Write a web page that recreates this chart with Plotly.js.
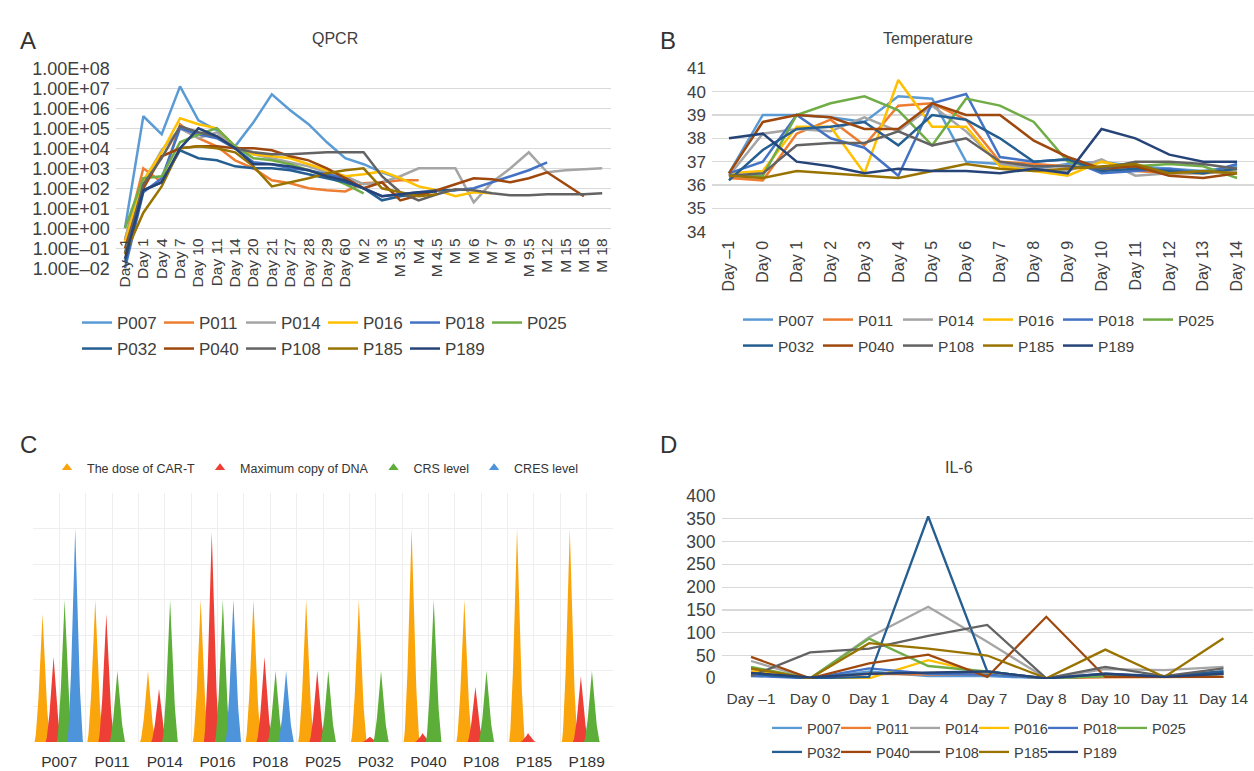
<!DOCTYPE html>
<html><head><meta charset="utf-8">
<script src="https://cdn.plot.ly/plotly-3.0.1.min.js"></script>
<style>html,body{margin:0;padding:0;background:#fff;} #chart{width:1254px;height:771px;}</style>
</head><body><div id="chart"></div>
<script>
// ---------- shared ----------
const patients = ['P007','P011','P014','P016','P018','P025','P032','P040','P108','P185','P189'];
const seriesColors = ['#5B9BD5','#ED7D31','#A5A5A5','#FFC000','#4472C4','#70AD47','#255E91','#9E480E','#636363','#997300','#264478'];

// ---------- A: QPCR ----------
const qpcrDays = ['Day –1','Day 1','Day 4','Day 7','Day 10','Day 11','Day 14','Day 20','Day 21','Day 27','Day 28','Day 29','Day 60','M 2','M 3','M 3.5','M 4','M 4.5','M 5','M 6','M 7','M 9','M 9.5','M 12','M 15','M 16','M 18'];
const qpcrTickVals = [1e-2,1e-1,1e0,1e1,1e2,1e3,1e4,1e5,1e6,1e7,1e8];
const qpcrTickText = ['1.00E–02','1.00E–01','1.00E+00','1.00E+01','1.00E+02','1.00E+03','1.00E+04','1.00E+05','1.00E+06','1.00E+07','1.00E+08'];
const qpcrP007 = [1,4e5,5e4,1.25e7,2.5e5,8e4,1.25e4,2e5,5e6,8e5,1.6e5,2e4,3200,1600,630,300,null,null,null,null,null,null,null,null,null,null,null];
const qpcrP011 = [0.25,1000,200,1.6e5,3.2e4,1.25e4,2500,1000,250,180,100,80,70,180,200,250,250,null,null,null,null,null,null,null,null,null,null];
const qpcrP014 = [0.3,200,8000,1e5,3.2e4,6.3e4,1e4,5000,3200,2000,1250,630,400,160,200,400,1000,1000,1000,20,200,1000,6300,630,800,900,1000];
const qpcrP016 = [0.2,250,6300,3.2e5,1.6e5,1e5,1.25e4,5000,4000,3200,1600,800,400,500,700,320,125,80,40,63,56,null,null,null,null,null,null];
const qpcrP018 = [0.01,63,320,1e5,5e4,3.2e4,1e4,2000,1600,1000,800,500,320,100,40,50,63,80,80,100,200,400,800,2000,null,null,null];
const qpcrP025 = [1,320,400,2e4,5e4,1e5,1.25e4,3200,2500,1600,800,400,160,56,null,null,null,null,null,null,null,null,null,null,null,null,null];
const qpcrP032 = [0.02,80,200,8000,3200,2500,1250,1000,1000,800,500,320,200,100,25,40,50,80,80,null,null,null,null,null,null,null,null];
const qpcrP040 = [0.1,100,4000,1e4,1.25e4,1.25e4,1e4,1e4,8000,4000,2500,1000,320,100,200,25,45,80,160,320,280,200,320,630,160,40,null];
const qpcrP108 = [0.06,160,3200,1.25e5,6.3e4,4e4,1e4,6300,5000,5000,5600,6300,6300,6300,400,63,25,50,90,80,56,45,45,50,50,50,56];
const qpcrP185 = [0.05,6,125,1e4,1.25e4,1e4,6300,1250,125,200,320,560,800,1000,100,63,40,50,null,null,null,null,null,null,null,null,null];
const qpcrP189 = [0.03,80,200,1e4,1e5,4e4,1e4,1600,1600,1250,800,400,250,100,40,50,63,70,null,null,null,null,null,null,null,null,null];

// ---------- B: Temperature ----------
const tempDays = ['Day –1','Day 0','Day 1','Day 2','Day 3','Day 4','Day 5','Day 6','Day 7','Day 8','Day 9','Day 10','Day 11','Day 12','Day 13','Day 14'];
const tempP007 = [36.5,39.0,39.0,38.9,38.7,39.8,39.7,37.0,36.9,36.7,36.9,37.0,36.8,36.7,36.6,36.8];
const tempP011 = [36.3,36.2,38.2,38.8,37.7,39.4,39.5,38.8,37.0,36.9,36.8,36.7,36.6,36.5,36.5,36.6];
const tempP014 = [36.4,38.2,38.4,38.3,38.9,38.3,39.4,38.3,36.9,36.7,36.6,37.1,36.4,36.5,36.5,36.6];
const tempP016 = [36.5,36.6,38.5,38.5,36.5,40.5,38.5,38.5,36.8,36.6,36.4,37.0,36.7,36.6,36.5,36.7];
const tempP018 = [36.5,37.0,39.0,38.0,37.6,36.4,39.5,39.9,37.2,37.0,37.1,36.5,36.6,36.7,36.5,36.9];
const tempP025 = [36.4,36.4,39.0,39.5,39.8,39.2,37.7,39.7,39.4,38.7,37.0,36.7,36.8,36.9,36.8,36.3];
const tempP032 = [36.2,37.5,38.4,38.5,38.7,37.7,39.0,38.8,38.0,37.0,37.1,36.6,36.7,36.6,36.5,36.7];
const tempP040 = [36.5,38.7,39.0,38.9,38.4,38.4,39.5,39.0,39.0,37.9,37.2,36.7,36.8,36.4,36.3,36.5];
const tempP108 = [36.4,36.5,37.7,37.8,37.8,38.3,37.7,38.0,37.0,36.8,36.8,36.7,37.0,37.0,36.9,36.7];
const tempP185 = [36.4,36.3,36.6,36.5,36.4,36.3,36.6,36.9,36.7,36.6,36.7,36.8,36.9,36.5,36.6,36.5];
const tempP189 = [38.0,38.2,37.0,36.8,36.5,36.7,36.6,36.6,36.5,36.7,36.5,38.4,38.0,37.3,37.0,37.0];

// ---------- C: dose / DNA / CRS / CRES ----------
const cSeriesNames = ['The dose of CAR-T','Maximum copy of DNA','CRS level','CRES level'];
const cSeriesColors = ['#FBA50D','#EE3F36','#5DAE38','#4D94DB'];
const doseCART = [3.6,4,2,4,4,4,4,6,4,6,6];
const maxDNA   = [2.4,3.6,1.5,5.9,2.4,2.0,0.15,0.25,1.55,0.25,1.85];
const crsLevel = [4,2,4,4,2,2,2,4,2,0,2];
const cresLevel= [6,0,0,4,2,0,0,0,0,0,0];

// ---------- D: IL-6 ----------
const il6Days = ['Day –1','Day 0','Day 1','Day 4','Day 7','Day 8','Day 10','Day 11','Day 14'];
const il6P007 = [10,0,15,5,5,0,5,5,10];
const il6P011 = [20,0,10,8,10,0,2,2,3];
const il6P014 = [38,0,90,157,80,0,20,18,25];
const il6P016 = [15,0,0,40,10,0,5,5,10];
const il6P018 = [5,0,22,10,8,0,5,5,15];
const il6P025 = [25,0,87,27,15,0,5,3,10];
const il6P032 = [10,0,3,355,15,0,10,5,15];
const il6P040 = [47,0,33,52,3,135,3,3,3];
const il6P108 = [5,57,65,93,117,0,25,5,22];
const il6P185 = [22,0,77,65,50,0,63,3,88];
const il6P189 = [12,2,10,12,15,0,10,3,10];

// ---------- build ----------
const W = 1254, H = 771;
const px = v => v / W;
const py = v => 1 - v / H;
const FONT = 'Liberation Sans, Arial, Helvetica, sans-serif';
const TXT = '#404040';
const GRID = '#D9D9D9';

const qpcrSeries = [qpcrP007,qpcrP011,qpcrP014,qpcrP016,qpcrP018,qpcrP025,qpcrP032,qpcrP040,qpcrP108,qpcrP185,qpcrP189];
const tempSeries = [tempP007,tempP011,tempP014,tempP016,tempP018,tempP025,tempP032,tempP040,tempP108,tempP185,tempP189];
const il6Series  = [il6P007,il6P011,il6P014,il6P016,il6P018,il6P025,il6P032,il6P040,il6P108,il6P185,il6P189];
const cSeries = [doseCART, maxDNA, crsLevel, cresLevel];

const traces = [];
const lastInRow = i => (i === 5 || i === 10);
patients.forEach((p, i) => {
  const t = {type:'scatter', mode:'lines', name:p, x:qpcrDays, y:qpcrSeries[i], xaxis:'x', yaxis:'y',
    line:{color:seriesColors[i], width:2.5}, connectgaps:false, legend: i < 6 ? 'legend' : 'legend2'};
  if (lastInRow(i)) t.legendwidth = 50;
  traces.push(t);
});
patients.forEach((p, i) => {
  const t = {type:'scatter', mode:'lines', name:p, x:tempDays, y:tempSeries[i], xaxis:'x2', yaxis:'y2',
    line:{color:seriesColors[i], width:2.5}, legend: i < 6 ? 'legend3' : 'legend4'};
  if (lastInRow(i)) t.legendwidth = 50;
  traces.push(t);
});
patients.forEach((p, i) => {
  const t = {type:'scatter', mode:'lines', name:p, x:il6Days, y:il6Series[i], xaxis:'x4', yaxis:'y4',
    line:{color:seriesColors[i], width:2.3}, legend: i < 6 ? 'legend5' : 'legend6'};
  if (lastInRow(i)) t.legendwidth = 50;
  traces.push(t);
});

// C: spike shapes generated from values
const slotOffset = [-0.32, -0.11, 0.10, 0.30];
const halfW = 0.15;
const profileT = [];
for (let k = -24; k <= 24; k++) profileT.push(k / 24);
cSeries.forEach((vals, s) => {
  const xs = [], ys = [];
  vals.forEach((h, i) => {
    if (!(h > 0)) return;
    const c = i + 0.5 + slotOffset[s];
    profileT.forEach(t => { xs.push(c + t * halfW); ys.push(h * Math.pow(1 - Math.abs(t), 1.5)); });
    xs.push(null); ys.push(null);
  });
  traces.push({type:'scatter', mode:'lines', x:xs, y:ys, xaxis:'x3', yaxis:'y3', fill:'toself',
    fillcolor:cSeriesColors[s], line:{width:0, color:cSeriesColors[s]}, showlegend:false, name:cSeriesNames[s]});
});
cSeriesNames.forEach((n, s) => {
  traces.push({type:'scatter', mode:'markers', x:[null], y:[null], xaxis:'x3', yaxis:'y3', name:n,
    marker:{symbol:'triangle-up', size:9, color:cSeriesColors[s]}, legend:'legend7'});
});

const legendBase = (x, y, size, ew) => ({orientation:'h', x:px(x), y:py(y), xanchor:'left', yanchor:'middle',
  bgcolor:'rgba(0,0,0,0)', font:{family:FONT, size:size, color:TXT}, entrywidth:ew, entrywidthmode:'pixels',
  itemclick:false, itemdoubleclick:false, tracegroupgap:0});

const layout = {
  width: W, height: H, margin:{l:0, r:0, t:0, b:0}, paper_bgcolor:'#fff', plot_bgcolor:'rgba(0,0,0,0)',
  font:{family:FONT, color:TXT}, hovermode:false, showlegend:true,
  // A
  xaxis:{domain:[px(115.8), px(611.4)], type:'category', categoryorder:'array', categoryarray:qpcrDays,
    tickmode:'array', tickvals:qpcrDays, ticktext:qpcrDays,
    range:[-0.5, 26.5], anchor:'free', position:py(228.3), showgrid:false, zeroline:false, showline:false,
    tickangle:-90, tickfont:{size:15.5, color:TXT}, ticks:'', ticklabelstandoff:6, fixedrange:true},
  yaxis:{domain:[py(268.3), py(68.3)], type:'log', range:[-2, 8], anchor:'x', tickvals:qpcrTickVals, ticktext:qpcrTickText,
    gridcolor:GRID, gridwidth:1.3, zeroline:false, showline:false, ticks:'', tickfont:{size:18, color:TXT}, ticklabelstandoff:5},
  // B
  xaxis2:{domain:[px(712), 1], type:'category', categoryorder:'array', categoryarray:tempDays, range:[-0.5, 15.5],
    tickmode:'array', tickvals:tempDays, ticktext:tempDays,
    anchor:'y2', showgrid:false, zeroline:false, showline:false, tickangle:-90, tickfont:{size:16, color:TXT}, ticks:'', ticklabelstandoff:5},
  yaxis2:{domain:[py(231.7), py(68.3)], range:[34, 41], dtick:1, anchor:'x2', gridcolor:GRID, gridwidth:1.3, zeroline:false,
    showline:false, ticks:'', tickfont:{size:17, color:TXT}, ticklabelstandoff:5},
  // C
  xaxis3:{domain:[px(33), px(613)], range:[0, 11], anchor:'y3', tickvals:patients.map((_, i) => i + 0.5), ticktext:patients,
    showgrid:true, gridcolor:'#EEEEEE', zeroline:false, showline:false, ticks:'', tickfont:{size:15.5, color:'#333'}, ticklabelstandoff:8,
    minor:{tickmode:'linear', tick0:0, dtick:0.5, showgrid:true, gridcolor:'#EEEEEE', ticks:''}},
  yaxis3:{domain:[py(742), py(493)], range:[0, 7], dtick:1, anchor:'x3', showticklabels:false, gridcolor:'#EEEEEE',
    zeroline:false, showline:false, ticks:''},
  // D
  xaxis4:{domain:[px(721.5), px(1253)], type:'category', categoryorder:'array', categoryarray:il6Days, range:[-0.5, 8.5],
    tickmode:'array', tickvals:il6Days, ticktext:il6Days,
    anchor:'y4', showgrid:false, zeroline:false, showline:false, tickfont:{size:15.5, color:TXT}, ticks:'', ticklabelstandoff:8},
  yaxis4:{domain:[py(679), py(496)], range:[-1.5, 400], dtick:50, anchor:'x4', gridcolor:GRID, gridwidth:1.3, zeroline:false,
    showline:false, ticks:'', tickfont:{size:17.5, color:TXT}, ticklabelstandoff:5},
  legend: legendBase(77, 323, 17, 37),
  legend2: legendBase(77, 349, 17, 37),
  legend3: legendBase(738, 320, 15.5, 35),
  legend4: legendBase(738, 346, 15.5, 35),
  legend5: legendBase(767, 728, 14.5, 24),
  legend6: legendBase(767, 752, 14.5, 24),
  legend7: {orientation:'h', x:px(47), y:py(468), xanchor:'left', yanchor:'middle', bgcolor:'rgba(0,0,0,0)',
    font:{family:FONT, size:12.5, color:'#333'}, itemclick:false, itemdoubleclick:false},
  annotations: [
    {text:'A', x:px(18), y:py(25), xref:'paper', yref:'paper', showarrow:false, font:{size:24, color:'#333'}},
    {text:'B', x:px(668), y:py(25), xref:'paper', yref:'paper', showarrow:false, font:{size:24, color:'#333'}},
    {text:'C', x:px(18), y:py(445), xref:'paper', yref:'paper', showarrow:false, font:{size:24, color:'#333'}},
    {text:'D', x:px(668), y:py(445), xref:'paper', yref:'paper', showarrow:false, font:{size:24, color:'#333'}},
    {text:'QPCR', x:px(310), y:py(28), xref:'paper', yref:'paper', showarrow:false, font:{size:16, color:TXT}},
    {text:'Temperature', x:px(975), y:py(28), xref:'paper', yref:'paper', showarrow:false, font:{size:16, color:TXT}},
    {text:'IL-6', x:px(975), y:py(468), xref:'paper', yref:'paper', showarrow:false, font:{size:16, color:TXT}}
  ]
};

Plotly.newPlot('chart', traces, layout, {displayModeBar:false, staticPlot:true});
</script>
</body></html>
